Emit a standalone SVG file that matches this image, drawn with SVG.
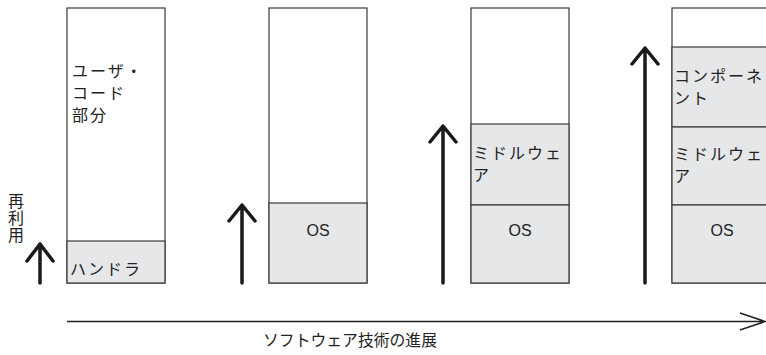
<svg xmlns="http://www.w3.org/2000/svg" width="766" height="355" viewBox="0 0 766 355">
<style>
.box{fill:#ffffff;stroke:#3a3a3a;stroke-width:1.2}
.layer{fill:#e6e7e8;stroke:#3a3a3a;stroke-width:1.2}
.jp{font-family:"Noto Sans CJK JP","Noto Sans",sans-serif;font-size:16px;fill:#222;letter-spacing:2px}
.os{font-family:"Liberation Sans",Arial,sans-serif;font-size:16px;fill:#222;text-anchor:middle}
.up{stroke:#1a1a1a;stroke-width:3.5;fill:none;stroke-linecap:round;stroke-linejoin:round}
</style>
<rect width="766" height="355" fill="#ffffff"/>
<g id="stack1">
<rect class="box" x="67" y="8" width="98" height="275"/>
<rect class="layer" x="67" y="241" width="98" height="42"/>
<text class="jp" x="72" y="77">ユーザ・</text>
<text class="jp" x="72" y="99">コード</text>
<text class="jp" x="72" y="121">部分</text>
<text class="jp" x="70" y="275">ハンドラ</text>
</g>
<g id="stack2">
<rect class="box" x="269" y="8" width="98" height="275"/>
<rect class="layer" x="269" y="203" width="98" height="80"/>
<text class="os" x="318" y="236">OS</text>
</g>
<g id="stack3">
<rect class="box" x="471" y="8" width="98" height="275"/>
<rect class="layer" x="471" y="124" width="98" height="81"/>
<rect class="layer" x="471" y="205" width="98" height="78"/>
<text class="jp" x="473" y="159">ミドルウェ</text>
<text class="jp" x="473" y="181">ア</text>
<text class="os" x="520" y="236">OS</text>
</g>
<g id="stack4">
<rect class="box" x="672" y="8" width="110" height="275"/>
<rect class="layer" x="672" y="47" width="110" height="80"/>
<rect class="layer" x="672" y="127" width="110" height="78"/>
<rect class="layer" x="672" y="205" width="110" height="78"/>
<text class="jp" x="674" y="82">コンポーネ</text>
<text class="jp" x="674" y="104">ント</text>
<text class="jp" x="674" y="160">ミドルウェ</text>
<text class="jp" x="674" y="182">ア</text>
<text class="os" x="722" y="236">OS</text>
</g>
<g id="reuse-label">
<text class="jp" x="16" y="193" writing-mode="tb" style="letter-spacing:1px">再利用</text>
</g>
<g id="connectors">
<path class="up" d="M40 283 V244 M27 261 L40 244 L53 261"/>
<path class="up" d="M242 283 V205 M229 221 L242 205 L255 221"/>
<path class="up" d="M443 283 V126 M430 142 L443 126 L456 142"/>
<path class="up" d="M645 283 V48 M632 64 L645 48 L658 64"/>
<path d="M67 321.5 H765 M740 313 L765 321.5 L740 330" stroke="#222" stroke-width="1.5" fill="none"/>
</g>
<text id="progress-label" class="jp" x="263" y="346" style="letter-spacing:0" textLength="174" lengthAdjust="spacingAndGlyphs">ソフトウェア技術の進展</text>
</svg>
